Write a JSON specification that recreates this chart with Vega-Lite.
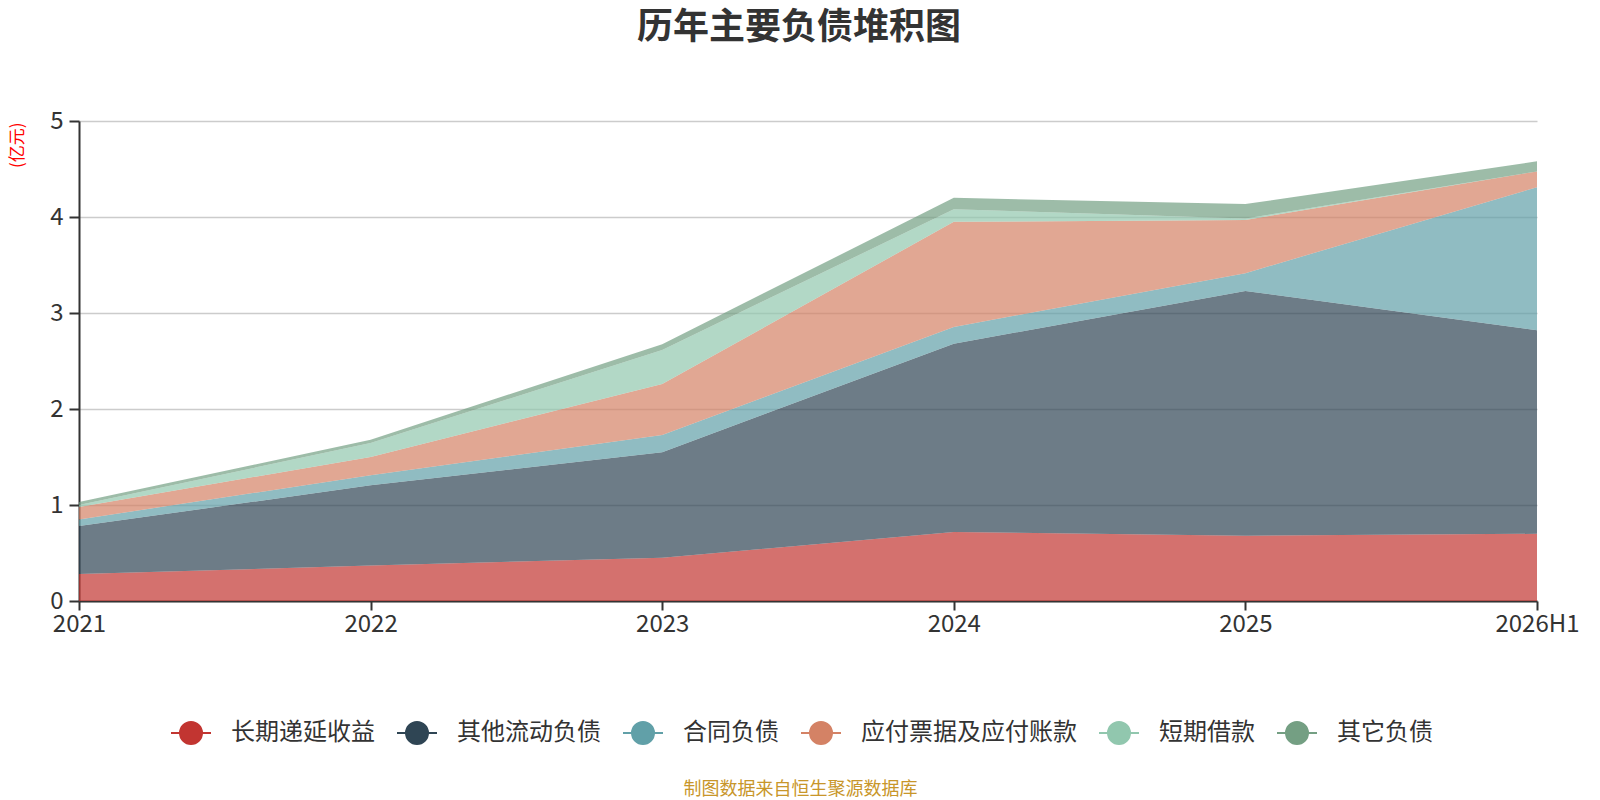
{
  "$schema": "https://vega.github.io/schema/vega-lite/v6.json",
  "width": 1458,
  "height": 480,
  "autosize": {"type": "none"},
  "padding": {"left": 79, "top": 121, "right": 63, "bottom": 199},
  "background": "white",
  "title": {
    "text": "历年主要负债堆积图",
    "frame": "group",
    "anchor": "middle",
    "orient": "top",
    "baseline": "bottom",
    "offset": 26,
    "dx": -9,
    "fontSize": 36,
    "fontWeight": "bold",
    "color": "#333333",
    "font": "Noto Sans CJK SC"
  },
  "config": {
    "font": "Noto Sans CJK SC",
    "view": {"stroke": null},
    "axis": {
      "labelFont": "Noto Sans CJK SC",
      "titleFont": "Noto Sans CJK SC",
      "labelColor": "#333333",
      "domainColor": "#333333",
      "tickColor": "#333333",
      "domainWidth": 2,
      "tickWidth": 2
    }
  },
  "data": {
    "values": [
      {"year": "2021", "s": "长期递延收益", "v": 0.28},
      {"year": "2022", "s": "长期递延收益", "v": 0.37},
      {"year": "2023", "s": "长期递延收益", "v": 0.45},
      {"year": "2024", "s": "长期递延收益", "v": 0.72},
      {"year": "2025", "s": "长期递延收益", "v": 0.68},
      {"year": "2026H1", "s": "长期递延收益", "v": 0.70},
      {"year": "2021", "s": "其他流动负债", "v": 0.50},
      {"year": "2022", "s": "其他流动负债", "v": 0.835},
      {"year": "2023", "s": "其他流动负债", "v": 1.10},
      {"year": "2024", "s": "其他流动负债", "v": 1.96},
      {"year": "2025", "s": "其他流动负债", "v": 2.55},
      {"year": "2026H1", "s": "其他流动负债", "v": 2.12},
      {"year": "2021", "s": "合同负债", "v": 0.07},
      {"year": "2022", "s": "合同负债", "v": 0.105},
      {"year": "2023", "s": "合同负债", "v": 0.18},
      {"year": "2024", "s": "合同负债", "v": 0.175},
      {"year": "2025", "s": "合同负债", "v": 0.185},
      {"year": "2026H1", "s": "合同负债", "v": 1.49},
      {"year": "2021", "s": "应付票据及应付账款", "v": 0.13},
      {"year": "2022", "s": "应付票据及应付账款", "v": 0.19},
      {"year": "2023", "s": "应付票据及应付账款", "v": 0.53},
      {"year": "2024", "s": "应付票据及应付账款", "v": 1.095},
      {"year": "2025", "s": "应付票据及应付账款", "v": 0.555},
      {"year": "2026H1", "s": "应付票据及应付账款", "v": 0.165},
      {"year": "2021", "s": "短期借款", "v": 0.02},
      {"year": "2022", "s": "短期借款", "v": 0.145},
      {"year": "2023", "s": "短期借款", "v": 0.355},
      {"year": "2024", "s": "短期借款", "v": 0.13},
      {"year": "2025", "s": "短期借款", "v": 0.015},
      {"year": "2026H1", "s": "短期借款", "v": 0},
      {"year": "2021", "s": "其它负债", "v": 0.03},
      {"year": "2022", "s": "其它负债", "v": 0.035},
      {"year": "2023", "s": "其它负债", "v": 0.06},
      {"year": "2024", "s": "其它负债", "v": 0.12},
      {"year": "2025", "s": "其它负债", "v": 0.15},
      {"year": "2026H1", "s": "其它负债", "v": 0.105}
    ]
  },
  "transform": [
    {"calculate": "indexof(['长期递延收益','其他流动负债','合同负债','应付票据及应付账款','短期借款','其它负债'], datum.s)", "as": "ord"}
  ],
  "mark": {"type": "area", "opacity": 0.7, "interpolate": "linear"},
  "encoding": {
    "x": {
      "field": "year",
      "type": "ordinal",
      "sort": ["2021", "2022", "2023", "2024", "2025", "2026H1"],
      "scale": {"type": "point", "padding": 0},
      "axis": {
        "labelAngle": 0,
        "labelFontSize": 24,
        "labelPadding": 2,
        "tickSize": 9,
        "grid": false,
        "title": "制图数据来自恒生聚源数据库",
        "titleFontSize": 18,
        "titleFontWeight": "normal",
        "titleColor": "#c8962a",
        "titleX": 721,
        "titleY": 188,
        "titleBaseline": "middle",
        "titleAlign": "center"
      }
    },
    "y": {
      "field": "v",
      "type": "quantitative",
      "stack": "zero",
      "scale": {"domain": [0, 5], "nice": false},
      "axis": {
        "values": [0, 1, 2, 3, 4, 5],
        "labelFontSize": 24,
        "labelPadding": 6,
        "tickSize": 10,
        "grid": true,
        "gridColor": "#cccccc",
        "gridWidth": 1.3,
        "title": "(亿元)",
        "titleFontSize": 17,
        "titleFontWeight": "normal",
        "titleColor": "#ff0000",
        "titleAngle": -90,
        "titleAlign": "right",
        "titleBaseline": "middle",
        "titleX": -62,
        "titleY": 1
      }
    },
    "color": {
      "field": "s",
      "type": "nominal",
      "scale": {
        "domain": ["长期递延收益", "其他流动负债", "合同负债", "应付票据及应付账款", "短期借款", "其它负债"],
        "range": ["#c23531", "#2f4554", "#61a0a8", "#d48265", "#91c7ae", "#749f83"]
      },
      "legend": {
        "orient": "none",
        "direction": "horizontal",
        "columns": 6,
        "legendX": 91,
        "legendY": 591,
        "title": null,
        "symbolType": "M-1,0L1,0M0.55,0A0.55,0.55,0,1,1,-0.55,0A0.55,0.55,0,1,1,0.55,0",
        "symbolSize": 1600,
        "symbolOpacity": 1,
        "symbolStrokeWidth": 2,
        "labelFontSize": 24,
        "labelLimit": 400,
        "labelColor": "#333333",
        "labelOffset": 19,
        "columnPadding": 18,
        "padding": 0,
        "encode": {
          "symbols": {
            "update": {
              "stroke": {"scale": "color", "field": "value"},
              "strokeWidth": {"value": 2},
              "opacity": {"value": 1}
            }
          }
        }
      }
    },
    "order": {"field": "ord", "type": "quantitative"}
  }
}
